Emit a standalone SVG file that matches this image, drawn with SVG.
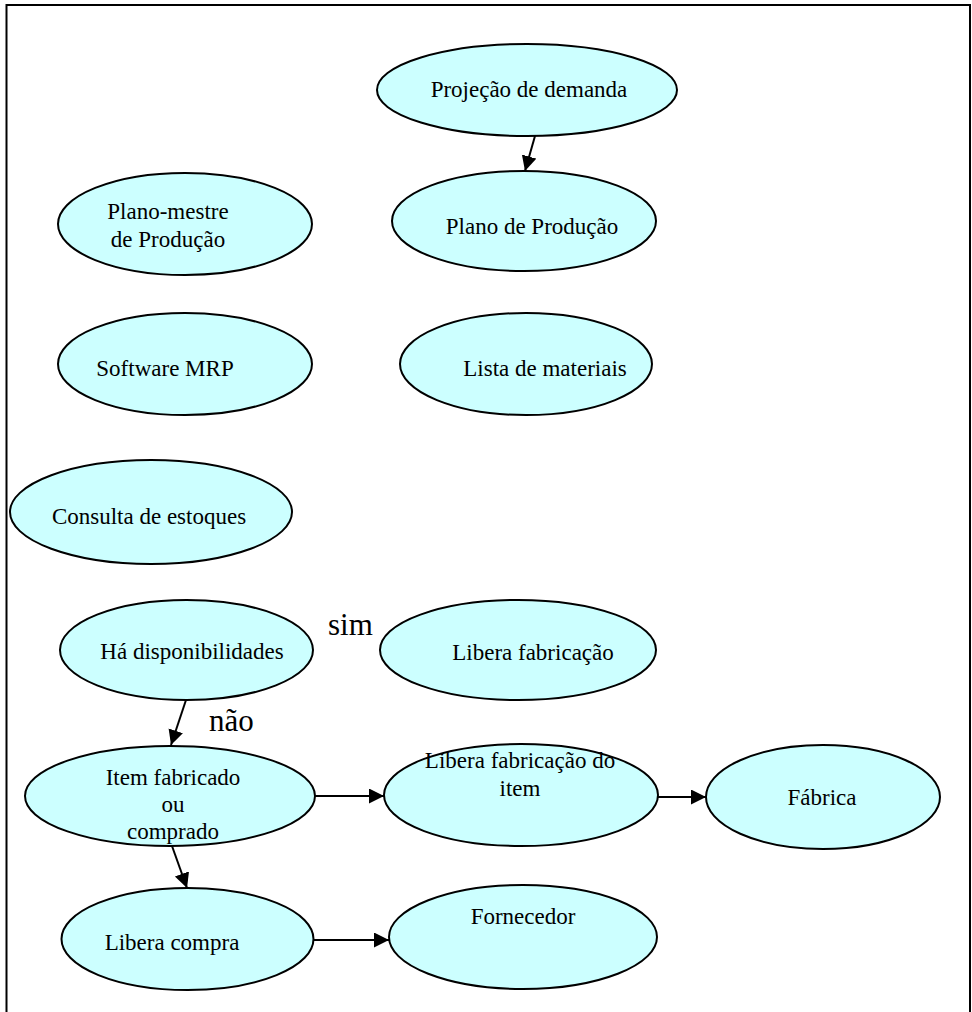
<svg xmlns="http://www.w3.org/2000/svg" width="972" height="1012" viewBox="0 0 972 1012">
  <style>
    .node ellipse { fill: #CCFFFF; stroke: #000; stroke-width: 2; }
    .node text, .lbl { font-family: "Liberation Serif", "Times New Roman", serif; fill: #000; }
    .node text { font-size: 23px; text-anchor: middle; }
    .lbl { font-size: 31px; }
    .edge { stroke: #000; stroke-width: 2; fill: none; marker-end: url(#arrow); }
  </style>
  <defs>
    <marker id="arrow" markerUnits="userSpaceOnUse" markerWidth="18" markerHeight="18" refX="15" refY="7.5" orient="auto">
      <path d="M0,0 L15,7.5 L0,15 Z" fill="#000"/>
    </marker>
  </defs>
  <rect width="972" height="1012" fill="#fff"/>
  <!-- frame: open at the bottom -->
  <path d="M6.5,1012 V5 H970 V1012" fill="none" stroke="#000" stroke-width="2"/>

  <g id="n-projecao" class="node">
    <ellipse cx="527" cy="90" rx="150" ry="46"/>
    <text x="529" y="97">Projeção de demanda</text>
  </g>
  <g id="n-plano-producao" class="node">
    <ellipse cx="524" cy="221" rx="132" ry="50"/>
    <text x="532" y="234">Plano de Produção</text>
  </g>
  <g id="n-plano-mestre" class="node">
    <ellipse cx="185" cy="224" rx="127" ry="51"/>
    <text x="168" y="219">Plano-mestre</text>
    <text x="168" y="247">de Produção</text>
  </g>
  <g id="n-software" class="node">
    <ellipse cx="185" cy="364" rx="127" ry="51"/>
    <text x="165" y="376">Software MRP</text>
  </g>
  <g id="n-lista" class="node">
    <ellipse cx="526" cy="364" rx="126" ry="51"/>
    <text x="545" y="376">Lista de materiais</text>
  </g>
  <g id="n-consulta" class="node">
    <ellipse cx="151" cy="512" rx="141" ry="52"/>
    <text x="149" y="524">Consulta de estoques</text>
  </g>
  <g id="n-disponibilidade" class="node">
    <ellipse cx="186.5" cy="650" rx="126.5" ry="50"/>
    <text x="192" y="659">Há disponibilidades</text>
  </g>
  <g id="n-libera-fabricacao" class="node">
    <ellipse cx="518" cy="650" rx="138" ry="50"/>
    <text x="533" y="660">Libera fabricação</text>
  </g>
  <g id="n-item" class="node">
    <ellipse cx="170" cy="796" rx="145" ry="50"/>
    <text x="173" y="785">Item fabricado</text>
    <text x="173" y="812">ou</text>
    <text x="173" y="839">comprado</text>
  </g>
  <g id="n-libera-fab-item" class="node">
    <ellipse cx="521" cy="795" rx="137" ry="51"/>
    <text x="520" y="768">Libera fabricação do</text>
    <text x="520" y="796">item</text>
  </g>
  <g id="n-fabrica" class="node">
    <ellipse cx="823" cy="797" rx="117" ry="52"/>
    <text x="822" y="805">Fábrica</text>
  </g>
  <g id="n-libera-compra" class="node">
    <ellipse cx="187.5" cy="939" rx="126" ry="51"/>
    <text x="172" y="950">Libera compra</text>
  </g>
  <g id="n-fornecedor" class="node">
    <ellipse cx="523" cy="937" rx="134" ry="52"/>
    <text x="523" y="924">Fornecedor</text>
  </g>

  <g id="labels">
    <text class="lbl" x="328" y="635">sim</text>
    <text class="lbl" x="209" y="731">não</text>
  </g>

  <g id="connectors">
    <line class="edge" x1="535" y1="136" x2="525" y2="171"/>
    <line class="edge" x1="186" y1="700" x2="171" y2="745"/>
    <line class="edge" x1="315" y1="796" x2="384" y2="796"/>
    <line class="edge" x1="658" y1="797" x2="706" y2="797"/>
    <line class="edge" x1="172" y1="846" x2="187" y2="888"/>
    <line class="edge" x1="313" y1="940" x2="389" y2="940"/>
  </g>
</svg>
